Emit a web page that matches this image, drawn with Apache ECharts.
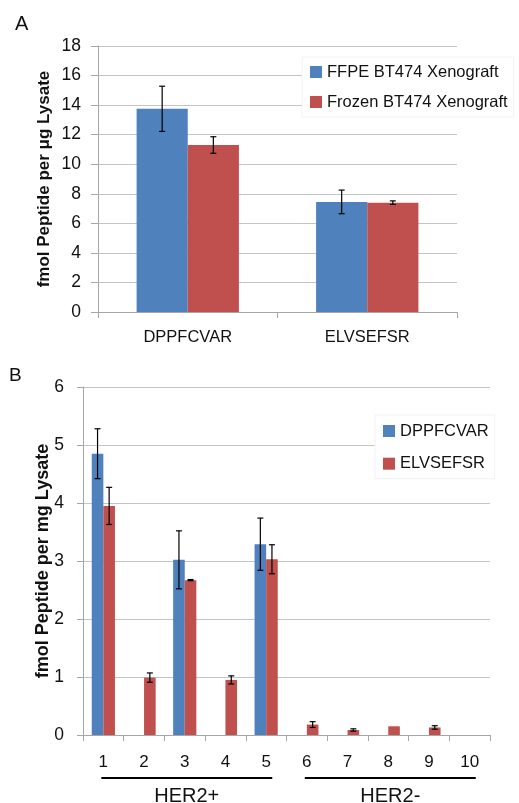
<!DOCTYPE html>
<html>
<head>
<meta charset="utf-8">
<script src="https://cdn.jsdelivr.net/npm/echarts@6/dist/echarts.min.js"></script>
<style>
html,body{margin:0;padding:0;background:#fff;}
#chart{width:519px;height:803px;}
</style>
</head>
<body>
<div id="chart"></div>
<script>
// ---- Panel A data ----
const catsA = ['DPPFCVAR', 'ELVSEFSR'];
const seriesNamesA = ['FFPE BT474 Xenograft', 'Frozen BT474 Xenograft'];
const ffpeA = [13.75, 7.45];
const ffpeErrA = [1.53, 0.8];
const frozenA = [11.3, 7.4];
const frozenErrA = [0.56, 0.12];
const yTitleA = 'fmol Peptide per \u03bcg Lysate';

// ---- Panel B data ----
const catsB = ['1', '2', '3', '4', '5', '6', '7', '8', '9', '10'];
const seriesNamesB = ['DPPFCVAR', 'ELVSEFSR'];
const dppB = [4.85, 0, 3.02, 0, 3.29, 0, 0, 0, 0, 0];
const dppErrB = [0.43, 0, 0.5, 0, 0.45, 0, 0, 0, 0, 0];
const elvB = [3.95, 0.99, 2.67, 0.95, 3.03, 0.18, 0.086, 0.15, 0.13, 0];
const elvErrB = [0.32, 0.08, 0.01, 0.07, 0.25, 0.05, 0.02, 0, 0.03, 0];
const groupsB = [[0, 4], [5, 9]];
const groupLabelsB = ['HER2+', 'HER2-'];
const yTitleB = 'fmol Peptide per mg Lysate';

const BLUE = '#4F81BD';
const RED = '#C0504D';
const FONT = 'Liberation Sans';
const GAP = 0.43;

function errData(vals, errs) {
  const out = [];
  vals.forEach((v, i) => { if (errs[i] > 0) out.push([i, v - errs[i], v + errs[i]]); });
  return out;
}

function errRender(k) {
  return function (params, api) {
    const i = api.value(0);
    const lo = api.coord([i, api.value(1)]);
    const hi = api.coord([i, api.value(2)]);
    const bw = api.size([1, 0])[0];
    const barW = bw * (1 - GAP) / 2;
    const x = lo[0] - bw * (1 - GAP) / 2 + (k + 0.5) * barW;
    const cap = 3;
    const st = { stroke: '#000', lineWidth: 1.2 };
    return {
      type: 'group',
      children: [
        { type: 'line', shape: { x1: x, y1: lo[1], x2: x, y2: hi[1] }, style: st },
        { type: 'line', shape: { x1: x - cap, y1: lo[1], x2: x + cap, y2: lo[1] }, style: st },
        { type: 'line', shape: { x1: x - cap, y1: hi[1], x2: x + cap, y2: hi[1] }, style: st }
      ]
    };
  };
}

const axisLineGray = { lineStyle: { color: '#a6a6a6', width: 1 } };
const tickGray = { show: true, length: 6, lineStyle: { color: '#a6a6a6' } };
const splitGray = { show: true, lineStyle: { color: '#c4c4c4', width: 1 } };

const chart = echarts.init(document.getElementById('chart'), null, { renderer: 'canvas' });
chart.setOption({
  animation: false,
  backgroundColor: '#fff',
  textStyle: { fontFamily: FONT },
  title: [
    { text: 'A', left: 10, top: 9, textStyle: { fontFamily: FONT, fontSize: 20, fontWeight: 'normal', color: '#111' } },
    { text: 'B', left: 4, top: 361, textStyle: { fontFamily: FONT, fontSize: 19, fontWeight: 'normal', color: '#111' } }
  ],
  legend: [
    {
      data: seriesNamesA, orient: 'vertical', left: 302, top: 57,
      backgroundColor: '#fff', borderColor: '#f2f2f2', borderWidth: 1,
      padding: [5, 6, 5, 8], itemWidth: 12, itemHeight: 12, itemGap: 10, icon: 'rect',
      textStyle: { fontFamily: FONT, fontSize: 16.5, color: '#111', lineHeight: 20 }
    },
    {
      data: seriesNamesB, orient: 'vertical', left: 375, top: 415,
      backgroundColor: '#fff', borderColor: '#f2f2f2', borderWidth: 1,
      padding: [6, 6, 5, 8], itemWidth: 12, itemHeight: 12, itemGap: 12.7, icon: 'rect',
      textStyle: { fontFamily: FONT, fontSize: 16.5, color: '#111', lineHeight: 20 }
    }
  ],
  grid: [
    { left: 98, top: 46, width: 359, height: 266 },
    { left: 83, top: 387, width: 407, height: 348 }
  ],
  xAxis: [
    {
      type: 'category', gridIndex: 0, data: catsA,
      axisLine: axisLineGray, axisTick: tickGray,
      axisLabel: { fontFamily: FONT, fontSize: 16.5, color: '#111', margin: 17 }
    },
    {
      type: 'category', gridIndex: 1, data: catsB,
      axisLine: axisLineGray, axisTick: tickGray,
      axisLabel: { fontFamily: FONT, fontSize: 17, color: '#111', margin: 19 }
    }
  ],
  yAxis: [
    {
      type: 'value', gridIndex: 0, min: 0, max: 18, interval: 2,
      axisLine: { show: true, lineStyle: { color: '#a6a6a6' } }, axisTick: { show: true, length: 7, lineStyle: { color: '#a6a6a6' } },
      splitLine: splitGray,
      axisLabel: { fontFamily: FONT, fontSize: 17.5, color: '#111', margin: 17 },
      name: yTitleA, nameLocation: 'middle', nameRotate: 90, nameGap: 45, nameMoveOverlap: false,
      nameTextStyle: { fontFamily: FONT, fontSize: 17, fontWeight: 'bold', color: '#111' }
    },
    {
      type: 'value', gridIndex: 1, min: 0, max: 6, interval: 1,
      axisLine: { show: true, lineStyle: { color: '#a6a6a6' } }, axisTick: { show: true, length: 6, lineStyle: { color: '#a6a6a6' } },
      splitLine: splitGray,
      axisLabel: { fontFamily: FONT, fontSize: 17.5, color: '#111', margin: 19 },
      name: yTitleB, nameLocation: 'middle', nameRotate: 90, nameGap: 31, nameMoveOverlap: false,
      nameTextStyle: { fontFamily: FONT, fontSize: 18, fontWeight: 'bold', color: '#111' }
    }
  ],
  series: [
    { name: seriesNamesA[0], type: 'bar', xAxisIndex: 0, yAxisIndex: 0, data: ffpeA, itemStyle: { color: BLUE }, barGap: '0%', barCategoryGap: '43%' },
    { name: seriesNamesA[1], type: 'bar', xAxisIndex: 0, yAxisIndex: 0, data: frozenA, itemStyle: { color: RED }, barGap: '0%', barCategoryGap: '43%' },
    { type: 'custom', xAxisIndex: 0, yAxisIndex: 0, z: 5, data: errData(ffpeA, ffpeErrA), renderItem: errRender(0), encode: { x: 0, y: [1, 2] } },
    { type: 'custom', xAxisIndex: 0, yAxisIndex: 0, z: 5, data: errData(frozenA, frozenErrA), renderItem: errRender(1), encode: { x: 0, y: [1, 2] } },

    { name: seriesNamesB[0], type: 'bar', xAxisIndex: 1, yAxisIndex: 1, data: dppB, itemStyle: { color: BLUE }, barGap: '0%', barCategoryGap: '43%' },
    { name: seriesNamesB[1], type: 'bar', xAxisIndex: 1, yAxisIndex: 1, data: elvB, itemStyle: { color: RED }, barGap: '0%', barCategoryGap: '43%' },
    { type: 'custom', xAxisIndex: 1, yAxisIndex: 1, z: 5, data: errData(dppB, dppErrB), renderItem: errRender(0), encode: { x: 0, y: [1, 2] } },
    { type: 'custom', xAxisIndex: 1, yAxisIndex: 1, z: 5, data: errData(elvB, elvErrB), renderItem: errRender(1), encode: { x: 0, y: [1, 2] } },
    {
      type: 'custom', xAxisIndex: 1, yAxisIndex: 1, z: 5, clip: false, silent: true,
      data: groupsB.map(g => [g[0], g[1], 0]),
      encode: { x: [0, 1], y: 2 },
      renderItem: function (params, api) {
        const a = api.coord([api.value(0), 0]);
        const b = api.coord([api.value(1), 0]);
        const bw = api.size([1, 0])[0];
        const x1 = a[0] - bw * 0.05;
        const x2 = b[0] + bw * 0.15;
        const y = a[1] + 43;
        return {
          type: 'group',
          children: [
            { type: 'line', shape: { x1: x1, y1: y, x2: x2, y2: y }, style: { stroke: '#000', lineWidth: 2 } },
            { type: 'text', style: { text: groupLabelsB[params.dataIndex], x: (x1 + x2) / 2, y: y + 18, align: 'center', verticalAlign: 'middle', font: '20px "Liberation Sans"', fill: '#111' } }
          ]
        };
      }
    }
  ]
});
</script>
</body>
</html>
